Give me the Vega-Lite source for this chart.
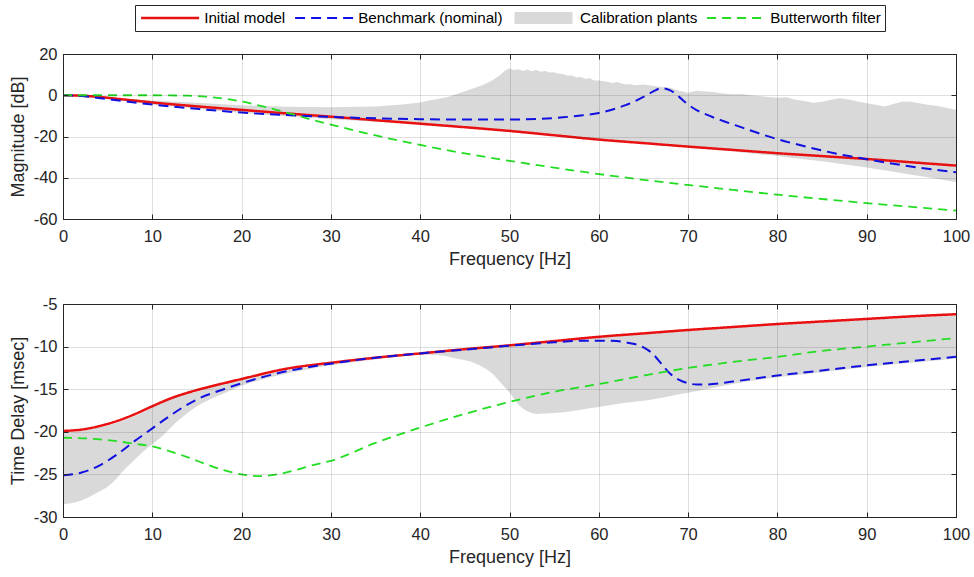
{
  "$schema": "https://vega.github.io/schema/vega-lite/v6.json",
  "background": "white",
  "padding": {"left": 8, "top": 4, "right": 2, "bottom": 10},
  "config": {
    "font": "Liberation Sans",
    "view": {"stroke": "#262626", "strokeWidth": 1},
    "axis": {"labelFont": "Liberation Sans", "labelFontSize": 16.5, "labelColor": "#262626", "titleFont": "Liberation Sans", "titleFontSize": 18, "titleFontWeight": "normal", "titleColor": "#262626", "domainColor": "#262626", "tickColor": "#262626", "gridColor": "#262626", "gridOpacity": 0.15, "gridWidth": 1},
    "legend": {"labelFont": "Liberation Sans", "labelFontSize": 15.2, "labelColor": "#000000", "strokeColor": "#262626", "fillColor": "#ffffff", "padding": 4, "columnPadding": 7, "labelOffset": 50, "clipHeight": 18}
  },
  "datasets": {
    "magLines": [
      {"s": "Initial model", "f": 0, "v": 0}, {"s": "Initial model", "f": 2, "v": -0.2}, {"s": "Initial model", "f": 4, "v": -0.8}, {"s": "Initial model", "f": 6, "v": -1.7}, {"s": "Initial model", "f": 8, "v": -2.6}, {"s": "Initial model", "f": 10, "v": -3.5}, {"s": "Initial model", "f": 12, "v": -4.3}, {"s": "Initial model", "f": 15, "v": -5.4}, {"s": "Initial model", "f": 20, "v": -7.1}, {"s": "Initial model", "f": 25, "v": -8.8}, {"s": "Initial model", "f": 30, "v": -10.4}, {"s": "Initial model", "f": 35, "v": -12.1}, {"s": "Initial model", "f": 40, "v": -13.8}, {"s": "Initial model", "f": 45, "v": -15.5}, {"s": "Initial model", "f": 50, "v": -17.3}, {"s": "Initial model", "f": 55, "v": -19.4}, {"s": "Initial model", "f": 60, "v": -21.5}, {"s": "Initial model", "f": 65, "v": -23.2}, {"s": "Initial model", "f": 70, "v": -24.9}, {"s": "Initial model", "f": 75, "v": -26.5}, {"s": "Initial model", "f": 80, "v": -28.1}, {"s": "Initial model", "f": 85, "v": -29.5}, {"s": "Initial model", "f": 90, "v": -30.9}, {"s": "Initial model", "f": 95, "v": -32.5}, {"s": "Initial model", "f": 100, "v": -34.1},
      {"s": "Benchmark (nominal)", "f": 0, "v": 0}, {"s": "Benchmark (nominal)", "f": 2, "v": -0.4}, {"s": "Benchmark (nominal)", "f": 4, "v": -1.3}, {"s": "Benchmark (nominal)", "f": 6, "v": -2.4}, {"s": "Benchmark (nominal)", "f": 8, "v": -3.5}, {"s": "Benchmark (nominal)", "f": 10, "v": -4.5}, {"s": "Benchmark (nominal)", "f": 12, "v": -5.4}, {"s": "Benchmark (nominal)", "f": 15, "v": -6.6}, {"s": "Benchmark (nominal)", "f": 20, "v": -8.4}, {"s": "Benchmark (nominal)", "f": 25, "v": -9.6}, {"s": "Benchmark (nominal)", "f": 30, "v": -10.5}, {"s": "Benchmark (nominal)", "f": 35, "v": -11.2}, {"s": "Benchmark (nominal)", "f": 40, "v": -11.6}, {"s": "Benchmark (nominal)", "f": 45, "v": -11.8}, {"s": "Benchmark (nominal)", "f": 50, "v": -11.8}, {"s": "Benchmark (nominal)", "f": 53, "v": -11.5}, {"s": "Benchmark (nominal)", "f": 56, "v": -10.7}, {"s": "Benchmark (nominal)", "f": 58, "v": -9.8}, {"s": "Benchmark (nominal)", "f": 60, "v": -8.6}, {"s": "Benchmark (nominal)", "f": 62, "v": -6.3}, {"s": "Benchmark (nominal)", "f": 63, "v": -4.8}, {"s": "Benchmark (nominal)", "f": 64, "v": -3}, {"s": "Benchmark (nominal)", "f": 65, "v": -0.8}, {"s": "Benchmark (nominal)", "f": 66, "v": 1.6}, {"s": "Benchmark (nominal)", "f": 67, "v": 3.4}, {"s": "Benchmark (nominal)", "f": 68, "v": 2.4}, {"s": "Benchmark (nominal)", "f": 69, "v": -0.8}, {"s": "Benchmark (nominal)", "f": 70, "v": -4.5}, {"s": "Benchmark (nominal)", "f": 71, "v": -7.3}, {"s": "Benchmark (nominal)", "f": 72, "v": -9.3}, {"s": "Benchmark (nominal)", "f": 74, "v": -12.6}, {"s": "Benchmark (nominal)", "f": 76, "v": -15.6}, {"s": "Benchmark (nominal)", "f": 78, "v": -18.6}, {"s": "Benchmark (nominal)", "f": 80, "v": -21.3}, {"s": "Benchmark (nominal)", "f": 82, "v": -23.6}, {"s": "Benchmark (nominal)", "f": 85, "v": -26.8}, {"s": "Benchmark (nominal)", "f": 88, "v": -29.5}, {"s": "Benchmark (nominal)", "f": 90, "v": -31}, {"s": "Benchmark (nominal)", "f": 93, "v": -33.2}, {"s": "Benchmark (nominal)", "f": 96, "v": -35.2}, {"s": "Benchmark (nominal)", "f": 100, "v": -37.3},
      {"s": "Butterworth filter", "f": 0, "v": 0}, {"s": "Butterworth filter", "f": 5, "v": 0}, {"s": "Butterworth filter", "f": 10, "v": 0}, {"s": "Butterworth filter", "f": 12, "v": -0.1}, {"s": "Butterworth filter", "f": 14, "v": -0.2}, {"s": "Butterworth filter", "f": 16, "v": -0.7}, {"s": "Butterworth filter", "f": 18, "v": -1.6}, {"s": "Butterworth filter", "f": 20, "v": -3}, {"s": "Butterworth filter", "f": 22, "v": -5}, {"s": "Butterworth filter", "f": 24, "v": -7.2}, {"s": "Butterworth filter", "f": 26, "v": -9.6}, {"s": "Butterworth filter", "f": 28, "v": -12}, {"s": "Butterworth filter", "f": 30, "v": -14.2}, {"s": "Butterworth filter", "f": 35, "v": -19.5}, {"s": "Butterworth filter", "f": 40, "v": -24.1}, {"s": "Butterworth filter", "f": 45, "v": -28.2}, {"s": "Butterworth filter", "f": 50, "v": -31.8}, {"s": "Butterworth filter", "f": 55, "v": -35.1}, {"s": "Butterworth filter", "f": 60, "v": -38.2}, {"s": "Butterworth filter", "f": 65, "v": -41}, {"s": "Butterworth filter", "f": 70, "v": -43.5}, {"s": "Butterworth filter", "f": 75, "v": -45.9}, {"s": "Butterworth filter", "f": 80, "v": -48.2}, {"s": "Butterworth filter", "f": 85, "v": -50.3}, {"s": "Butterworth filter", "f": 90, "v": -52.3}, {"s": "Butterworth filter", "f": 95, "v": -54.1}, {"s": "Butterworth filter", "f": 100, "v": -55.9}
    ],
    "magBand": [
      {"s": "Calibration plants", "f": 0, "lo": 0, "hi": 0}, {"s": "Calibration plants", "f": 5, "lo": -1.6, "hi": -1.0}, {"s": "Calibration plants", "f": 10, "lo": -4.6, "hi": -2.5}, {"s": "Calibration plants", "f": 15, "lo": -6.6, "hi": -3.6}, {"s": "Calibration plants", "f": 20, "lo": -8.6, "hi": -4.8}, {"s": "Calibration plants", "f": 25, "lo": -10.2, "hi": -5.6}, {"s": "Calibration plants", "f": 30, "lo": -11.6, "hi": -5.8}, {"s": "Calibration plants", "f": 35, "lo": -12.8, "hi": -5.4}, {"s": "Calibration plants", "f": 38, "lo": -13.6, "hi": -4.5}, {"s": "Calibration plants", "f": 40, "lo": -14.2, "hi": -3.5}, {"s": "Calibration plants", "f": 41, "lo": -14.5, "hi": -2.5}, {"s": "Calibration plants", "f": 43, "lo": -15.1, "hi": -1}, {"s": "Calibration plants", "f": 45, "lo": -15.8, "hi": 2}, {"s": "Calibration plants", "f": 47, "lo": -16.5, "hi": 5}, {"s": "Calibration plants", "f": 48, "lo": -16.9, "hi": 7}, {"s": "Calibration plants", "f": 49, "lo": -17.2, "hi": 10}, {"s": "Calibration plants", "f": 49.5, "lo": -17.4, "hi": 12}, {"s": "Calibration plants", "f": 50, "lo": -17.6, "hi": 13}, {"s": "Calibration plants", "f": 50.5, "lo": -17.8, "hi": 12.2}, {"s": "Calibration plants", "f": 51, "lo": -18.0, "hi": 12.6}, {"s": "Calibration plants", "f": 51.5, "lo": -18.2, "hi": 11.8}, {"s": "Calibration plants", "f": 52, "lo": -18.4, "hi": 12.5}, {"s": "Calibration plants", "f": 52.5, "lo": -18.6, "hi": 11.6}, {"s": "Calibration plants", "f": 53, "lo": -18.8, "hi": 12.3}, {"s": "Calibration plants", "f": 53.5, "lo": -19.0, "hi": 11.4}, {"s": "Calibration plants", "f": 54, "lo": -19.2, "hi": 11.8}, {"s": "Calibration plants", "f": 54.5, "lo": -19.4, "hi": 11.0}, {"s": "Calibration plants", "f": 55, "lo": -19.6, "hi": 11.2}, {"s": "Calibration plants", "f": 55.5, "lo": -19.8, "hi": 10.4}, {"s": "Calibration plants", "f": 56, "lo": -20.0, "hi": 10.3}, {"s": "Calibration plants", "f": 56.5, "lo": -20.2, "hi": 9.6}, {"s": "Calibration plants", "f": 57, "lo": -20.4, "hi": 9.6}, {"s": "Calibration plants", "f": 57.5, "lo": -20.6, "hi": 8.6}, {"s": "Calibration plants", "f": 58, "lo": -20.8, "hi": 8.8}, {"s": "Calibration plants", "f": 58.5, "lo": -21.0, "hi": 8.0}, {"s": "Calibration plants", "f": 59, "lo": -21.2, "hi": 8.2}, {"s": "Calibration plants", "f": 59.5, "lo": -21.5, "hi": 7.2}, {"s": "Calibration plants", "f": 60, "lo": -21.7, "hi": 7.2}, {"s": "Calibration plants", "f": 61, "lo": -22.0, "hi": 6.6}, {"s": "Calibration plants", "f": 61.5, "lo": -22.2, "hi": 6.0}, {"s": "Calibration plants", "f": 62, "lo": -22.4, "hi": 6.4}, {"s": "Calibration plants", "f": 63, "lo": -22.7, "hi": 5.2}, {"s": "Calibration plants", "f": 63.5, "lo": -22.9, "hi": 5.5}, {"s": "Calibration plants", "f": 64, "lo": -23.0, "hi": 4.8}, {"s": "Calibration plants", "f": 65, "lo": -23.4, "hi": 5.2}, {"s": "Calibration plants", "f": 66, "lo": -23.8, "hi": 4.6}, {"s": "Calibration plants", "f": 67, "lo": -24.1, "hi": 4.0}, {"s": "Calibration plants", "f": 68, "lo": -24.5, "hi": 3.6}, {"s": "Calibration plants", "f": 69, "lo": -24.8, "hi": 2.2}, {"s": "Calibration plants", "f": 70, "lo": -25.2, "hi": 1.2}, {"s": "Calibration plants", "f": 71, "lo": -25.6, "hi": 2.2}, {"s": "Calibration plants", "f": 72, "lo": -26.0, "hi": 1.8}, {"s": "Calibration plants", "f": 73, "lo": -26.4, "hi": 1.4}, {"s": "Calibration plants", "f": 74, "lo": -26.8, "hi": 0.9}, {"s": "Calibration plants", "f": 75, "lo": -27.2, "hi": 0.5}, {"s": "Calibration plants", "f": 76, "lo": -27.7, "hi": 0.6}, {"s": "Calibration plants", "f": 77, "lo": -28.1, "hi": 0.0}, {"s": "Calibration plants", "f": 78, "lo": -28.6, "hi": -0.4}, {"s": "Calibration plants", "f": 79, "lo": -29.0, "hi": -0.8}, {"s": "Calibration plants", "f": 80, "lo": -29.5, "hi": -1.2}, {"s": "Calibration plants", "f": 81, "lo": -30.0, "hi": -1.0}, {"s": "Calibration plants", "f": 82, "lo": -30.5, "hi": -2.2}, {"s": "Calibration plants", "f": 83, "lo": -31.0, "hi": -2.8}, {"s": "Calibration plants", "f": 84, "lo": -31.5, "hi": -3.6}, {"s": "Calibration plants", "f": 85, "lo": -32.0, "hi": -3.2}, {"s": "Calibration plants", "f": 86, "lo": -32.6, "hi": -2.2}, {"s": "Calibration plants", "f": 87, "lo": -33.2, "hi": -1.5}, {"s": "Calibration plants", "f": 88, "lo": -33.8, "hi": -2.0}, {"s": "Calibration plants", "f": 89, "lo": -34.4, "hi": -3.0}, {"s": "Calibration plants", "f": 90, "lo": -35.0, "hi": -3.9}, {"s": "Calibration plants", "f": 91, "lo": -35.7, "hi": -4.6}, {"s": "Calibration plants", "f": 92, "lo": -36.4, "hi": -5.4}, {"s": "Calibration plants", "f": 93, "lo": -37.1, "hi": -4.2}, {"s": "Calibration plants", "f": 94, "lo": -37.8, "hi": -3.0}, {"s": "Calibration plants", "f": 95, "lo": -38.5, "hi": -3.2}, {"s": "Calibration plants", "f": 96, "lo": -39.2, "hi": -4.0}, {"s": "Calibration plants", "f": 97, "lo": -39.9, "hi": -4.7}, {"s": "Calibration plants", "f": 98, "lo": -40.6, "hi": -5.2}, {"s": "Calibration plants", "f": 99, "lo": -41.3, "hi": -6.2}, {"s": "Calibration plants", "f": 100, "lo": -42.0, "hi": -7.0}
    ],
    "tdLines": [
      {"s": "Initial model", "f": 0, "v": -19.9}, {"s": "Initial model", "f": 2, "v": -19.75}, {"s": "Initial model", "f": 4, "v": -19.35}, {"s": "Initial model", "f": 6, "v": -18.75}, {"s": "Initial model", "f": 8, "v": -17.95}, {"s": "Initial model", "f": 10, "v": -17.0}, {"s": "Initial model", "f": 12, "v": -16.1}, {"s": "Initial model", "f": 15, "v": -15.1}, {"s": "Initial model", "f": 18, "v": -14.3}, {"s": "Initial model", "f": 20, "v": -13.8}, {"s": "Initial model", "f": 25, "v": -12.6}, {"s": "Initial model", "f": 30, "v": -11.9}, {"s": "Initial model", "f": 35, "v": -11.3}, {"s": "Initial model", "f": 40, "v": -10.8}, {"s": "Initial model", "f": 45, "v": -10.3}, {"s": "Initial model", "f": 50, "v": -9.85}, {"s": "Initial model", "f": 55, "v": -9.35}, {"s": "Initial model", "f": 60, "v": -8.85}, {"s": "Initial model", "f": 65, "v": -8.45}, {"s": "Initial model", "f": 70, "v": -8.05}, {"s": "Initial model", "f": 75, "v": -7.7}, {"s": "Initial model", "f": 80, "v": -7.35}, {"s": "Initial model", "f": 85, "v": -7.05}, {"s": "Initial model", "f": 90, "v": -6.75}, {"s": "Initial model", "f": 95, "v": -6.45}, {"s": "Initial model", "f": 100, "v": -6.2},
      {"s": "Benchmark (nominal)", "f": 0, "v": -25.1}, {"s": "Benchmark (nominal)", "f": 2, "v": -24.8}, {"s": "Benchmark (nominal)", "f": 4, "v": -24.0}, {"s": "Benchmark (nominal)", "f": 6, "v": -22.7}, {"s": "Benchmark (nominal)", "f": 8, "v": -21.1}, {"s": "Benchmark (nominal)", "f": 10, "v": -19.6}, {"s": "Benchmark (nominal)", "f": 12, "v": -18.1}, {"s": "Benchmark (nominal)", "f": 15, "v": -16.2}, {"s": "Benchmark (nominal)", "f": 18, "v": -15.0}, {"s": "Benchmark (nominal)", "f": 20, "v": -14.3}, {"s": "Benchmark (nominal)", "f": 25, "v": -12.9}, {"s": "Benchmark (nominal)", "f": 30, "v": -12.0}, {"s": "Benchmark (nominal)", "f": 35, "v": -11.3}, {"s": "Benchmark (nominal)", "f": 40, "v": -10.8}, {"s": "Benchmark (nominal)", "f": 45, "v": -10.35}, {"s": "Benchmark (nominal)", "f": 50, "v": -9.9}, {"s": "Benchmark (nominal)", "f": 55, "v": -9.5}, {"s": "Benchmark (nominal)", "f": 58, "v": -9.3}, {"s": "Benchmark (nominal)", "f": 60, "v": -9.3}, {"s": "Benchmark (nominal)", "f": 62, "v": -9.35}, {"s": "Benchmark (nominal)", "f": 63, "v": -9.5}, {"s": "Benchmark (nominal)", "f": 64, "v": -9.7}, {"s": "Benchmark (nominal)", "f": 65, "v": -10.1}, {"s": "Benchmark (nominal)", "f": 66, "v": -10.8}, {"s": "Benchmark (nominal)", "f": 67, "v": -12.0}, {"s": "Benchmark (nominal)", "f": 68, "v": -13.2}, {"s": "Benchmark (nominal)", "f": 69, "v": -13.9}, {"s": "Benchmark (nominal)", "f": 70, "v": -14.3}, {"s": "Benchmark (nominal)", "f": 71, "v": -14.45}, {"s": "Benchmark (nominal)", "f": 72, "v": -14.45}, {"s": "Benchmark (nominal)", "f": 75, "v": -14.1}, {"s": "Benchmark (nominal)", "f": 80, "v": -13.4}, {"s": "Benchmark (nominal)", "f": 85, "v": -12.8}, {"s": "Benchmark (nominal)", "f": 90, "v": -12.2}, {"s": "Benchmark (nominal)", "f": 95, "v": -11.7}, {"s": "Benchmark (nominal)", "f": 100, "v": -11.2},
      {"s": "Butterworth filter", "f": 0, "v": -20.7}, {"s": "Butterworth filter", "f": 3, "v": -20.8}, {"s": "Butterworth filter", "f": 6, "v": -21.1}, {"s": "Butterworth filter", "f": 8, "v": -21.4}, {"s": "Butterworth filter", "f": 10, "v": -21.7}, {"s": "Butterworth filter", "f": 12, "v": -22.3}, {"s": "Butterworth filter", "f": 14, "v": -23.0}, {"s": "Butterworth filter", "f": 16, "v": -23.8}, {"s": "Butterworth filter", "f": 18, "v": -24.5}, {"s": "Butterworth filter", "f": 20, "v": -25.0}, {"s": "Butterworth filter", "f": 22, "v": -25.2}, {"s": "Butterworth filter", "f": 24, "v": -25.0}, {"s": "Butterworth filter", "f": 26, "v": -24.5}, {"s": "Butterworth filter", "f": 28, "v": -23.9}, {"s": "Butterworth filter", "f": 30, "v": -23.4}, {"s": "Butterworth filter", "f": 35, "v": -21.3}, {"s": "Butterworth filter", "f": 40, "v": -19.5}, {"s": "Butterworth filter", "f": 45, "v": -17.9}, {"s": "Butterworth filter", "f": 50, "v": -16.5}, {"s": "Butterworth filter", "f": 55, "v": -15.3}, {"s": "Butterworth filter", "f": 60, "v": -14.4}, {"s": "Butterworth filter", "f": 65, "v": -13.4}, {"s": "Butterworth filter", "f": 70, "v": -12.5}, {"s": "Butterworth filter", "f": 75, "v": -11.8}, {"s": "Butterworth filter", "f": 80, "v": -11.2}, {"s": "Butterworth filter", "f": 85, "v": -10.5}, {"s": "Butterworth filter", "f": 90, "v": -10.0}, {"s": "Butterworth filter", "f": 95, "v": -9.5}, {"s": "Butterworth filter", "f": 100, "v": -9.0}
    ],
    "tdBand": [
      {"s": "Calibration plants", "f": 0, "lo": -28.5, "hi": -20.1}, {"s": "Calibration plants", "f": 2, "lo": -28.1, "hi": -19.9}, {"s": "Calibration plants", "f": 3.4, "lo": -27.4, "hi": -19.6}, {"s": "Calibration plants", "f": 5.3, "lo": -26.2, "hi": -19.2}, {"s": "Calibration plants", "f": 7, "lo": -24.3, "hi": -18.6}, {"s": "Calibration plants", "f": 9, "lo": -22.3, "hi": -17.7}, {"s": "Calibration plants", "f": 11, "lo": -20.6, "hi": -16.6}, {"s": "Calibration plants", "f": 13, "lo": -18.6, "hi": -15.8}, {"s": "Calibration plants", "f": 15, "lo": -17.0, "hi": -15.3}, {"s": "Calibration plants", "f": 18, "lo": -15.5, "hi": -14.4}, {"s": "Calibration plants", "f": 20, "lo": -14.6, "hi": -13.9}, {"s": "Calibration plants", "f": 25, "lo": -13.2, "hi": -12.8}, {"s": "Calibration plants", "f": 30, "lo": -12.2, "hi": -12.0}, {"s": "Calibration plants", "f": 35, "lo": -11.5, "hi": -11.4}, {"s": "Calibration plants", "f": 40, "lo": -10.95, "hi": -10.9}, {"s": "Calibration plants", "f": 42, "lo": -11.0, "hi": -10.7}, {"s": "Calibration plants", "f": 44, "lo": -11.4, "hi": -10.5}, {"s": "Calibration plants", "f": 46, "lo": -11.9, "hi": -10.3}, {"s": "Calibration plants", "f": 47, "lo": -12.4, "hi": -10.25}, {"s": "Calibration plants", "f": 48, "lo": -13.1, "hi": -10.15}, {"s": "Calibration plants", "f": 49, "lo": -14.2, "hi": -10.05}, {"s": "Calibration plants", "f": 50, "lo": -15.4, "hi": -9.95}, {"s": "Calibration plants", "f": 51, "lo": -16.8, "hi": -9.85}, {"s": "Calibration plants", "f": 52, "lo": -17.6, "hi": -9.75}, {"s": "Calibration plants", "f": 53, "lo": -17.9, "hi": -9.65}, {"s": "Calibration plants", "f": 55, "lo": -17.8, "hi": -9.45}, {"s": "Calibration plants", "f": 58, "lo": -17.4, "hi": -9.15}, {"s": "Calibration plants", "f": 60, "lo": -17.1, "hi": -8.95}, {"s": "Calibration plants", "f": 63, "lo": -16.6, "hi": -8.7}, {"s": "Calibration plants", "f": 66, "lo": -16.2, "hi": -8.4}, {"s": "Calibration plants", "f": 69, "lo": -15.6, "hi": -8.2}, {"s": "Calibration plants", "f": 71, "lo": -15.2, "hi": -8.05}, {"s": "Calibration plants", "f": 73, "lo": -14.8, "hi": -7.9}, {"s": "Calibration plants", "f": 75, "lo": -14.4, "hi": -7.8}, {"s": "Calibration plants", "f": 80, "lo": -13.6, "hi": -7.45}, {"s": "Calibration plants", "f": 85, "lo": -13.0, "hi": -7.15}, {"s": "Calibration plants", "f": 90, "lo": -12.4, "hi": -6.85}, {"s": "Calibration plants", "f": 95, "lo": -11.9, "hi": -6.6}, {"s": "Calibration plants", "f": 100, "lo": -11.4, "hi": -6.35}
    ]
  },
  "spacing": 85,
  "bounds": "flush",
  "resolve": {"legend": {"color": "independent", "strokeDash": "independent", "strokeWidth": "independent"}},
  "vconcat": [
    {
      "width": 893,
      "height": 165,
      "layer": [
        {
          "data": {"name": "magBand"},
          "mark": {"type": "area", "interpolate": "linear"},
          "encoding": {
            "x": {"field": "f", "type": "quantitative", "scale": {"domain": [0, 100], "nice": false}, "axis": {"title": "Frequency [Hz]", "values": [0, 10, 20, 30, 40, 50, 60, 70, 80, 90, 100], "grid": true, "tickSize": -5, "labelPadding": 14, "titlePadding": 6, "labelExpr": "'' + datum.value", "labelFlush": false, "labelOverlap": false, "zindex": 1}},
            "y": {"field": "lo", "type": "quantitative", "scale": {"domain": [-60, 20], "nice": false}, "axis": {"title": "Magnitude [dB]", "values": [-60, -40, -20, 0, 20], "grid": true, "tickSize": -5, "labelPadding": 11, "titlePadding": 6, "labelExpr": "'' + datum.value", "labelFlush": false, "labelOverlap": false, "zindex": 1}},
            "y2": {"field": "hi"},
            "color": {"field": "s", "type": "nominal", "scale": {"domain": ["Initial model", "Benchmark (nominal)", "Calibration plants", "Butterworth filter"], "range": ["#e81010", "#1010e0", "#d9d9d9", "#22dd22"]}, "legend": {"orient": "none", "legendX": 72, "legendY": -49, "direction": "horizontal", "title": null, "symbolType": "M-1.375,0H13.125", "symbolSize": 64}}
          }
        },
        {
          "data": {"name": "magLines"},
          "mark": {"type": "line", "interpolate": "monotone", "strokeCap": "butt"},
          "encoding": {
            "x": {"field": "f", "type": "quantitative", "axis": null},
            "y": {"field": "v", "type": "quantitative", "axis": null},
            "color": {"field": "s", "type": "nominal", "scale": {"domain": ["Initial model", "Benchmark (nominal)", "Calibration plants", "Butterworth filter"], "range": ["#e81010", "#1010e0", "#d9d9d9", "#22dd22"]}, "legend": {"orient": "none", "legendX": 72, "legendY": -49, "direction": "horizontal", "title": null, "symbolType": "M-1.375,0H13.125", "symbolSize": 64}},
            "strokeDash": {"field": "s", "type": "nominal", "scale": {"domain": ["Initial model", "Benchmark (nominal)", "Calibration plants", "Butterworth filter"], "range": [[1, 0], [10, 6], [1, 0], [9, 6]]}, "legend": {"orient": "none", "legendX": 72, "legendY": -49, "direction": "horizontal", "title": null, "symbolType": "M-1.375,0H13.125", "symbolSize": 64}},
            "strokeWidth": {"field": "s", "type": "nominal", "scale": {"type": "ordinal", "domain": ["Initial model", "Benchmark (nominal)", "Calibration plants", "Butterworth filter"], "range": [2.5, 2, 12, 1.8]}, "legend": {"orient": "none", "legendX": 72, "legendY": -49, "direction": "horizontal", "title": null, "symbolType": "M-1.375,0H13.125", "symbolSize": 64}}
          }
        },
        {
          "data": {"name": "magBand"},
          "mark": {"type": "point", "opacity": 0},
          "encoding": {
            "x": {"field": "f", "type": "quantitative", "axis": {"orient": "top", "labels": false, "title": null, "grid": false, "domain": false, "tickSize": -5, "values": [0, 10, 20, 30, 40, 50, 60, 70, 80, 90, 100]}},
            "y": {"field": "hi", "type": "quantitative", "axis": {"orient": "right", "labels": false, "title": null, "grid": false, "domain": false, "tickSize": -5, "values": [-60, -40, -20, 0, 20]}}
          }
        }
      ],
      "resolve": {"axis": {"x": "independent", "y": "independent"}}
    },
    {
      "width": 893,
      "height": 213,
      "layer": [
        {
          "data": {"name": "tdBand"},
          "mark": {"type": "area", "interpolate": "monotone"},
          "encoding": {
            "x": {"field": "f", "type": "quantitative", "scale": {"domain": [0, 100], "nice": false}, "axis": {"title": "Frequency [Hz]", "values": [0, 10, 20, 30, 40, 50, 60, 70, 80, 90, 100], "grid": true, "tickSize": -5, "labelPadding": 14, "titlePadding": 6, "labelExpr": "'' + datum.value", "labelFlush": false, "labelOverlap": false, "zindex": 1}},
            "y": {"field": "lo", "type": "quantitative", "scale": {"domain": [-30, -5], "nice": false}, "axis": {"title": "Time Delay [msec]", "values": [-30, -25, -20, -15, -10, -5], "grid": true, "tickSize": -5, "labelPadding": 11, "titlePadding": 6, "labelExpr": "'' + datum.value", "labelFlush": false, "labelOverlap": false, "zindex": 1}},
            "y2": {"field": "hi"},
            "color": {"field": "s", "type": "nominal", "scale": {"domain": ["Initial model", "Benchmark (nominal)", "Calibration plants", "Butterworth filter"], "range": ["#e81010", "#1010e0", "#d9d9d9", "#22dd22"]}, "legend": null}
          }
        },
        {
          "data": {"name": "tdLines"},
          "mark": {"type": "line", "interpolate": "monotone", "strokeCap": "butt"},
          "encoding": {
            "x": {"field": "f", "type": "quantitative", "axis": null},
            "y": {"field": "v", "type": "quantitative", "axis": null},
            "color": {"field": "s", "type": "nominal", "scale": {"domain": ["Initial model", "Benchmark (nominal)", "Calibration plants", "Butterworth filter"], "range": ["#e81010", "#1010e0", "#d9d9d9", "#22dd22"]}, "legend": null},
            "strokeDash": {"field": "s", "type": "nominal", "scale": {"domain": ["Initial model", "Benchmark (nominal)", "Calibration plants", "Butterworth filter"], "range": [[1, 0], [10, 6], [1, 0], [9, 6]]}, "legend": null},
            "strokeWidth": {"field": "s", "type": "nominal", "scale": {"type": "ordinal", "domain": ["Initial model", "Benchmark (nominal)", "Calibration plants", "Butterworth filter"], "range": [2.5, 2, 12, 1.8]}, "legend": null}
          }
        },
        {
          "data": {"name": "tdBand"},
          "mark": {"type": "point", "opacity": 0},
          "encoding": {
            "x": {"field": "f", "type": "quantitative", "axis": {"orient": "top", "labels": false, "title": null, "grid": false, "domain": false, "tickSize": -5, "values": [0, 10, 20, 30, 40, 50, 60, 70, 80, 90, 100]}},
            "y": {"field": "hi", "type": "quantitative", "axis": {"orient": "right", "labels": false, "title": null, "grid": false, "domain": false, "tickSize": -5, "values": [-30, -25, -20, -15, -10, -5]}}
          }
        }
      ],
      "resolve": {"axis": {"x": "independent", "y": "independent"}}
    }
  ]
}
